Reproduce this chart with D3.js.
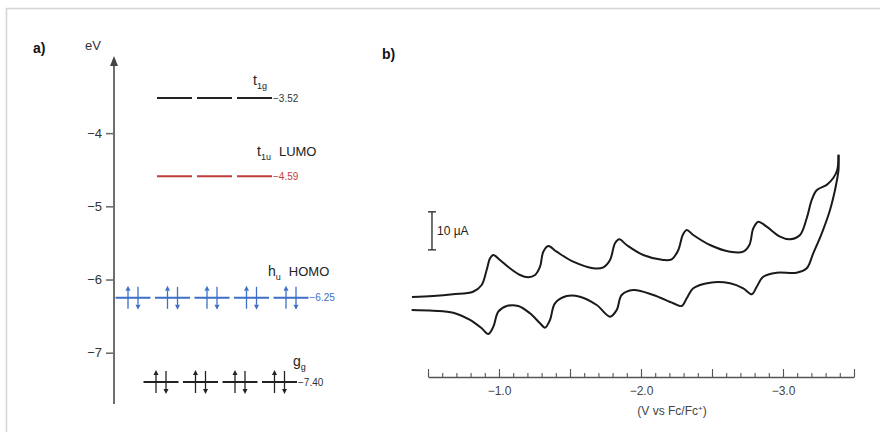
<!DOCTYPE html>
<html>
<head>
<meta charset="utf-8">
<script src="https://cdn.jsdelivr.net/npm/d3@7/dist/d3.min.js"></script>
<style>
  html, body { margin: 0; padding: 0; background: #fff; }
  svg { display: block; font-family: "Liberation Sans", Arial, Helvetica, sans-serif; }
</style>
</head>
<body>
<svg id="chart" width="880" height="432"></svg>
<script>
// ---------- DATA ----------
// Panel a: orbital energy levels (eV)
const levelValues = [-3.52, -4.59, -6.25, -7.40];
const levelSymbols = ["t", "t", "h", "g"];
const levelSubscripts = ["1g", "1u", "u", "g"];
const levelTags = ["", "LUMO", "HOMO", ""];
const levelDegeneracy = [3, 3, 5, 4];
const levelOccupied = [false, false, true, true];
const energyTicks = [-4, -5, -6, -7];

// Panel b: cyclic voltammogram (V vs Fc/Fc+, µA)
const sweepUpper = [
  [-0.387, 0.79], [-0.535, 1.05], [-0.676, 1.5], [-0.817, 2.18], [-0.878, 3.95],
  [-0.913, 7.89], [-0.937, 10.97], [-0.960, 11.84], [-1.007, 10.53], [-1.077, 8.34],
  [-1.148, 6.58], [-1.206, 5.97], [-1.254, 6.58], [-1.289, 8.76], [-1.312, 12.71],
  [-1.347, 14.21], [-1.406, 12.71], [-1.523, 10.08], [-1.664, 8.34], [-1.735, 8.61],
  [-1.782, 10.53], [-1.817, 14.92], [-1.847, 15.97], [-1.899, 14.47], [-2.016, 11.84],
  [-2.157, 10.53], [-2.216, 10.71], [-2.263, 13.16], [-2.294, 17.11], [-2.322, 18.42],
  [-2.368, 17.11], [-2.486, 14.47], [-2.627, 12.71], [-2.720, 12.71], [-2.763, 14.47],
  [-2.791, 18.87], [-2.826, 20.61], [-2.885, 19.29], [-2.979, 16.66], [-3.049, 15.97],
  [-3.120, 17.11], [-3.167, 21.5], [-3.202, 26.3], [-3.237, 28.9], [-3.308, 30.3],
  [-3.354, 32.1], [-3.382, 34.2], [-3.391, 38.2]
];
const sweepLower = [
  [-3.391, 38.2], [-3.391, 34.2], [-3.380, 31.6], [-3.366, 28.9], [-3.331, 23.7],
  [-3.273, 17.55], [-3.213, 12.29], [-3.167, 8.34], [-3.096, 7.18], [-2.956, 7.18],
  [-2.861, 6.13], [-2.815, 3.5], [-2.780, 1.5], [-2.720, 3.08], [-2.627, 4.39],
  [-2.486, 4.55], [-2.368, 3.08], [-2.322, 0.45], [-2.287, -1.58], [-2.227, -0.87],
  [-2.087, 1.32], [-1.946, 2.63], [-1.864, 1.32], [-1.829, -2.63], [-1.782, -4.39],
  [-1.688, -1.32], [-1.570, 0.87], [-1.477, 1.05], [-1.394, -0.87], [-1.359, -5.26],
  [-1.324, -7.29], [-1.289, -6.13], [-1.218, -3.5], [-1.136, -1.58], [-1.054, -1.58],
  [-0.995, -3.08], [-0.960, -7.03], [-0.925, -8.95], [-0.878, -7.45], [-0.796, -5.26],
  [-0.678, -3.34], [-0.537, -2.82], [-0.385, -2.63]
];
const voltageLabelTicks = [-1.0, -2.0, -3.0];
const scaleBarCurrent = 10;      // µA
const scaleBarStart = 13.2;      // µA (where the bar begins)
const scaleBarVoltage = -0.528;  // V (horizontal placement)

// ---------- LAYOUT / STYLE ----------
const levelColors = ["#222222", "#c23b3b", "#3d6fc6", "#222222"];
const valueColors = ["#333333", "#c23b3b", "#3d6fc6", "#333333"];
const firstCenter = [174.5, 174.5, 133, 161];
const spacing = [40, 40, 39.5, 39.5];
const segW = 35;
const nameX = [253, 257, 268, 293];
const nameDy = [-13, -20, -22, -16];

const svg = d3.select("#chart");

// frame
svg.append("path")
  .attr("d", "M6.5,432 L6.5,8.5 L880,8.5")
  .attr("fill", "none").attr("stroke", "#d4d4d4").attr("stroke-width", 1.5);

// ---------- PANEL A ----------
const yE = d3.scaleLinear().domain([-3.52, -7.40]).range([98, 382]);
const axisX = 114;

const ga = svg.append("g");
ga.append("text").attr("x", 33).attr("y", 53).attr("font-size", 14).attr("font-weight", "bold")
  .attr("fill", "#111").text("a)");
ga.append("text").attr("x", 85).attr("y", 50).attr("font-size", 13).attr("fill", "#333").text("eV");

// vertical axis with arrow
ga.append("line").attr("x1", axisX).attr("x2", axisX).attr("y1", 62).attr("y2", 404)
  .attr("stroke", "#6e6e6e").attr("stroke-width", 2);
ga.append("path").attr("d", `M${axisX - 4},66 L${axisX},56 L${axisX + 4},66 Z`).attr("fill", "#444");

const axisA = d3.axisLeft(yE).tickValues(energyTicks).tickSize(8).tickPadding(4)
  .tickFormat(d3.format("d"));
const gAxA = ga.append("g").attr("transform", `translate(${axisX},0)`).call(axisA);
gAxA.select(".domain").remove();
gAxA.selectAll(".tick line").attr("stroke", "#6e6e6e").attr("stroke-width", 1.6);
gAxA.selectAll(".tick text").attr("font-size", 13).attr("fill", "#333")
  .attr("font-family", "Liberation Sans, Arial, sans-serif");

// levels
levelValues.forEach((v, li) => {
  const y = yE(v);
  const col = levelColors[li];
  const centers = d3.range(levelDegeneracy[li]).map(k => firstCenter[li] + k * spacing[li]);
  const g = ga.append("g");
  g.selectAll("line.seg").data(centers).join("line").attr("class", "seg")
    .attr("x1", c => c - segW / 2).attr("x2", c => c + segW / 2)
    .attr("y1", y).attr("y2", y).attr("stroke", col).attr("stroke-width", 2);
  if (levelOccupied[li]) {
    centers.forEach(c => {
      const ux = c - 5, dx = c + 5;
      g.append("line").attr("x1", ux).attr("x2", ux).attr("y1", y + 11).attr("y2", y - 7)
        .attr("stroke", col).attr("stroke-width", 1.3);
      g.append("path").attr("d", `M${ux - 2.5},${y - 7} L${ux},${y - 12} L${ux + 2.5},${y - 7} Z`).attr("fill", col);
      g.append("line").attr("x1", dx).attr("x2", dx).attr("y1", y - 11).attr("y2", y + 7)
        .attr("stroke", col).attr("stroke-width", 1.3);
      g.append("path").attr("d", `M${dx - 2.5},${y + 7} L${dx},${y + 12} L${dx + 2.5},${y + 7} Z`).attr("fill", col);
    });
  }
  const endX = centers[centers.length - 1] + segW / 2;
  g.append("text").attr("x", endX + 1).attr("y", y + 3.5).attr("font-size", 10)
    .attr("fill", valueColors[li]).text(d3.format(".2f")(v));
  const t = g.append("text").attr("x", nameX[li]).attr("y", y + nameDy[li])
    .attr("font-size", 14).attr("fill", "#222");
  t.append("tspan").text(levelSymbols[li]);
  t.append("tspan").attr("font-size", 9).attr("dy", 4).text(levelSubscripts[li]);
  if (levelTags[li]) {
    t.append("tspan").attr("dy", -4).attr("dx", 8).attr("font-size", 13).text(levelTags[li]);
  }
});

// ---------- PANEL B ----------
const xV = d3.scaleLinear().domain([-0.5, -3.5]).range([428, 854]);
const yI = d3.scaleLinear().domain([0, 10]).range([300, 262]);
const gb = svg.append("g");
gb.append("text").attr("x", 382).attr("y", 59).attr("font-size", 14).attr("font-weight", "bold")
  .attr("fill", "#111").text("b)");

const line = d3.line().x(d => xV(d[0])).y(d => yI(d[1])).curve(d3.curveCatmullRom.alpha(0.5));
[sweepUpper, sweepLower].forEach(s => {
  gb.append("path").attr("d", line(s)).attr("fill", "none")
    .attr("stroke", "#1a1a1a").attr("stroke-width", 2).attr("stroke-linejoin", "round");
});

// scale bar
const sbx = xV(scaleBarVoltage);
const sbY1 = yI(scaleBarStart), sbY2 = yI(scaleBarStart + scaleBarCurrent);
gb.append("line").attr("x1", sbx).attr("x2", sbx).attr("y1", sbY1).attr("y2", sbY2)
  .attr("stroke", "#333").attr("stroke-width", 1.4);
[sbY1, sbY2].forEach(yy => gb.append("line").attr("x1", sbx - 4).attr("x2", sbx + 4)
  .attr("y1", yy).attr("y2", yy).attr("stroke", "#333").attr("stroke-width", 1.4));
gb.append("text").attr("x", sbx + 5).attr("y", (sbY1 + sbY2) / 2 + 4).attr("font-size", 12)
  .attr("fill", "#222").text(scaleBarCurrent + " µA");

// voltage axis
const axisY = 377;
const minorTicks = d3.range(0, 31).map(k => -0.5 - k * 0.1);
const majorTicks = d3.range(0, 7).map(k => -0.5 - k * 0.5);
const gAxMinor = gb.append("g").attr("transform", `translate(0,${axisY})`)
  .call(d3.axisBottom(xV).tickValues(minorTicks).tickSizeInner(-4).tickSizeOuter(0).tickFormat(""));
const gAxMajor = gb.append("g").attr("transform", `translate(0,${axisY})`)
  .call(d3.axisBottom(xV).tickValues(majorTicks).tickSizeInner(-8).tickSizeOuter(0).tickFormat(""));
const gAxLab = gb.append("g").attr("transform", `translate(0,${axisY})`)
  .call(d3.axisBottom(xV).tickValues(voltageLabelTicks).tickSize(0).tickPadding(9)
    .tickFormat(d3.format(".1f")));
[gAxMinor, gAxMajor, gAxLab].forEach(g => {
  g.selectAll("path.domain").attr("stroke", "#555").attr("stroke-width", 1.3);
  g.selectAll(".tick line").attr("stroke", "#555").attr("stroke-width", 1.1);
});
gAxLab.select(".domain").remove();
gAxMajor.select(".domain").remove();
gAxLab.selectAll(".tick text").attr("font-size", 12).attr("fill", "#444")
  .attr("font-family", "Liberation Sans, Arial, sans-serif");

const xl = gb.append("text").attr("x", 672).attr("y", 415).attr("text-anchor", "middle")
  .attr("font-size", 12).attr("fill", "#444");
xl.append("tspan").text("(V vs Fc/Fc");
xl.append("tspan").attr("font-size", 8).attr("dy", -4).text("+");
xl.append("tspan").attr("dy", 4).text(")");
</script>
</body>
</html>
